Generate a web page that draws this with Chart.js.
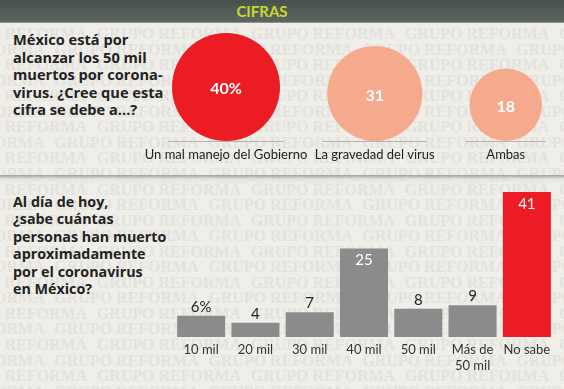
<!DOCTYPE html>
<html>
<head>
<meta charset="utf-8">
<script src="https://cdn.jsdelivr.net/npm/chart.js@4"></script>
<style>
  html, body { margin: 0; padding: 0; }
  body { width: 564px; height: 389px; position: relative; overflow: hidden; background: #efeee9; font-family: Lato, "Open Sans", sans-serif; }
  #wm { position: absolute; left: 0; top: 0; width: 564px; height: 389px; overflow: hidden; }
  .wmrow { position: absolute; white-space: nowrap; font: bold 16px "Liberation Serif", serif; color: #e3e2dd; line-height: 18px; }
  .wmrow span { display: inline-block; width: 154px; }
  #header { position: absolute; left: 0; top: 0; width: 564px; height: 22px; background: linear-gradient(#48514c, #5d6661); border-bottom: 1px solid #8d948f; z-index: 2; }
  #header div { position: absolute; left: 0; width: 524px; top: 0; line-height: 23px; text-align: center; color: #c8da2e; font-weight: bold; font-size: 15px; }
  .q { position: absolute; left: 13px; font-family: "Open Sans", sans-serif; font-weight: bold; font-size: 14.3px; color: #222; white-space: nowrap; }
  #divider { position: absolute; left: 0; top: 175px; width: 564px; height: 9px; background: linear-gradient(rgba(150,150,146,0.9), rgba(200,200,196,0.35) 40%, rgba(239,238,233,0)); }
  canvas { position: absolute; left: 0; }
</style>
</head>
<body>
<div id="wm"></div>
<div id="header"><div>CIFRAS</div></div>
<div class="q" style="top:31px; line-height:17.6px; font-size:14.6px;">México está por<br>alcanzar los 50 mil<br>muertos por corona-<br>virus. ¿Cree que esta<br>cifra se debe a...?</div>
<div id="divider"></div>
<div class="q" style="top:193px; line-height:17.4px;">Al día de hoy,<br>¿sabe cuántas<br>personas han muerto<br>aproximadamente<br>por el coronavirus<br>en México?</div>
<canvas id="top" width="612" height="256" style="top:-45px; width:612px; height:256px;"></canvas>
<canvas id="bottom" width="564" height="209" style="top:180px; width:564px; height:209px;"></canvas>
<script>
// pregunta 1
var circleLabels = ['Un mal manejo del Gobierno', 'La gravedad del virus', 'Ambas']
var circleValues = [40, 31, 18]

// pregunta 2
var barLabels = ['10 mil', '20 mil', '30 mil', '40 mil', '50 mil', ['Más de', '50 mil'], 'No sabe']
var barValues = [6, 4, 7, 25, 8, 9, 41]

var red = '#ec1c24'
var salmon = '#f6aa8d'
var gray = '#8a8c8b'

// watermark
var wm = document.getElementById('wm')
for (var k = -1; k < 25; k++) {
  var row = document.createElement('div')
  row.className = 'wmrow'
  var start = Math.abs(k) % 2 === 1 ? 54.3 : 96.7
  row.style.top = (34 + 15.55 * k - 9) + 'px'
  row.style.left = (start - 154 * 2) + 'px'
  var html = ''
  for (var m = 0; m < 7; m++) html += '<span>GRUPO REFORMA</span>'
  row.innerHTML = html
  wm.appendChild(row)
}

Chart.defaults.font.family = 'Lato, "Open Sans", sans-serif'
Chart.defaults.animation = false

// ---- circles (bubble) ----
// canvas is bigger than the area so the bubble overflow padding never kicks in
var padTop = { left: 172, right: 70, top: 70, bottom: 70 }
var areaW = 612 - padTop.left - padTop.right
var areaH = 256 - padTop.top - padTop.bottom
var maxR = 54
var maxVal = Math.max.apply(null, circleValues)
var radii = circleValues.map(function (v) { return maxR * Math.sqrt(v / maxVal) })
var sumD = radii.reduce(function (a, r) { return a + 2 * r }, 0)
var gap = (areaW - sumD) / (radii.length - 1)
var bubbles = []
var cx = 0
radii.forEach(function (r, i) {
  cx += r
  bubbles.push({ x: cx, y: r, r: r })
  cx += r + gap
})

var bubbleText = {
  id: 'bubbleText',
  afterDatasetsDraw: function (chart) {
    var ctx = chart.ctx
    var meta = chart.getDatasetMeta(0)
    meta.data.forEach(function (pt, i) {
      var r = radii[i]
      ctx.save()
      // base line
      ctx.strokeStyle = '#b4b3ae'
      ctx.lineWidth = 1
      ctx.beginPath()
      ctx.moveTo(pt.x - r - 4, Math.round(pt.y + r) + 0.5)
      ctx.lineTo(pt.x + r + 4, Math.round(pt.y + r) + 0.5)
      ctx.stroke()
      ctx.textAlign = 'center'
      ctx.textBaseline = 'middle'
      ctx.fillStyle = '#fff'
      ctx.font = 'bold 16px Lato, sans-serif'
      ctx.fillText(circleValues[i] + (i === 0 ? '%' : ''), pt.x, pt.y + 2)
      ctx.fillStyle = '#222'
      ctx.font = '13px Lato, sans-serif'
      ctx.fillText(circleLabels[i], pt.x, pt.y + r + 14)
      ctx.restore()
    })
  }
}

new Chart(document.getElementById('top'), {
  type: 'bubble',
  data: {
    datasets: [{
      data: bubbles,
      backgroundColor: circleValues.map(function (v) { return v === maxVal ? red : salmon }),
      borderWidth: 0,
      hoverRadius: 0,
      clip: false
    }]
  },
  options: {
    responsive: false,
    layout: { padding: padTop },
    plugins: { legend: { display: false }, tooltip: { enabled: false } },
    scales: {
      x: { type: 'linear', display: false, min: 0, max: areaW },
      y: { type: 'linear', display: false, min: 0, max: areaH }
    }
  },
  plugins: [bubbleText]
})

// ---- bars ----
var barMax = Math.max.apply(null, barValues)
var barText = {
  id: 'barText',
  afterDatasetsDraw: function (chart) {
    var ctx = chart.ctx
    var meta = chart.getDatasetMeta(0)
    meta.data.forEach(function (bar, i) {
      var v = barValues[i]
      var txt = v + (i === 0 ? '%' : '')
      ctx.save()
      ctx.textAlign = 'center'
      ctx.textBaseline = 'middle'
      ctx.font = '15px Lato, sans-serif'
      if (v > 20) {
        ctx.fillStyle = '#fff'
        ctx.fillText(txt, bar.x, bar.y + 12)
      } else {
        ctx.fillStyle = '#222'
        ctx.fillText(txt, bar.x, bar.y - 9)
      }
      ctx.restore()
    })
  }
}

new Chart(document.getElementById('bottom'), {
  type: 'bar',
  data: {
    labels: barLabels,
    datasets: [{
      data: barValues,
      backgroundColor: barValues.map(function (v) { return v === barMax ? red : gray }),
      borderWidth: 0,
      categoryPercentage: 1,
      barPercentage: 0.885
    }]
  },
  options: {
    responsive: false,
    layout: { padding: { left: 174, right: 10, top: 12, bottom: 0 } },
    plugins: { legend: { display: false }, tooltip: { enabled: false } },
    scales: {
      x: {
        grid: { display: false, drawTicks: false },
        border: { display: false },
        ticks: { color: '#333', font: { size: 13, lineHeight: 1.23 }, padding: 5, autoSkip: false, maxRotation: 0 },
        afterFit: function (s) { s.height = 52 }
      },
      y: { display: false, min: 0, max: barMax }
    }
  },
  plugins: [barText]
})
</script>
</body>
</html>
